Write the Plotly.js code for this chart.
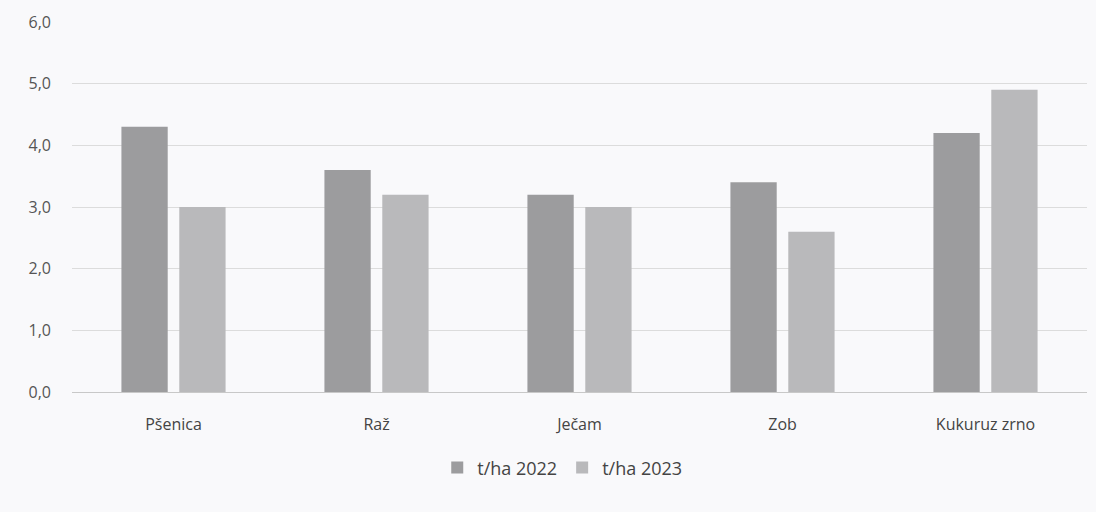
<!DOCTYPE html>
<html>
<head>
<meta charset="utf-8">
<script src="https://cdn.plot.ly/plotly-3.0.1.min.js"></script>
<style>
html,body{margin:0;padding:0;background:#f9f9fb;}
#chart{width:1096px;height:512px;}
</style>
</head>
<body>
<div id="chart"></div>
<script>
const categories = ["Pšenica", "Raž", "Ječam", "Zob", "Kukuruz zrno"];
const yield2022 = [4.3, 3.6, 3.2, 3.4, 4.2];
const yield2023 = [3.0, 3.2, 3.0, 2.6, 4.9];
const seriesNames = ["t/ha 2022", "t/ha 2023"];
const yTicks = [0, 1, 2, 3, 4, 5, 6];
const yTickText = ["0,0", "1,0", "2,0", "3,0", "4,0", "5,0", "6,0"];

const data = [
  {type: "bar", x: categories, y: yield2022, name: seriesNames[0],
   marker: {color: "#9c9c9e"}},
  {type: "bar", x: categories, y: yield2023, name: seriesNames[1],
   marker: {color: "#b9b9bb"}}
];

const layout = {
  width: 1096, height: 512,
  paper_bgcolor: "#f9f9fb", plot_bgcolor: "#f9f9fb",
  margin: {l: 72, r: 9, t: 22, b: 120},
  barmode: "group", bargap: 0.43, bargroupgap: 0.2,
  font: {family: "Open Sans, sans-serif", color: "#555555"},
  showlegend: true,
  legend: {orientation: "h", x: 0.483, xanchor: "center", y: -0.205, yanchor: "middle",
           font: {size: 18, color: "#444444"}, itemwidth: 30, bgcolor: "rgba(0,0,0,0)"},
  xaxis: {type: "category", showgrid: false, showline: true, linecolor: "#c8c8c8", linewidth: 1,
          ticks: "", ticklabelstandoff: 18, tickfont: {size: 16, color: "#444444"}, zeroline: false},
  yaxis: {range: [0, 6], tickvals: yTicks, ticktext: yTickText, showgrid: true,
          gridcolor: "#dcdcdc", zeroline: false, showline: false, ticks: "",
          ticklabelstandoff: 20, tickfont: {size: 16, color: "#555555"}}
};

Plotly.newPlot("chart", data, layout, {displayModeBar: false, staticPlot: true});
</script>
</body>
</html>
